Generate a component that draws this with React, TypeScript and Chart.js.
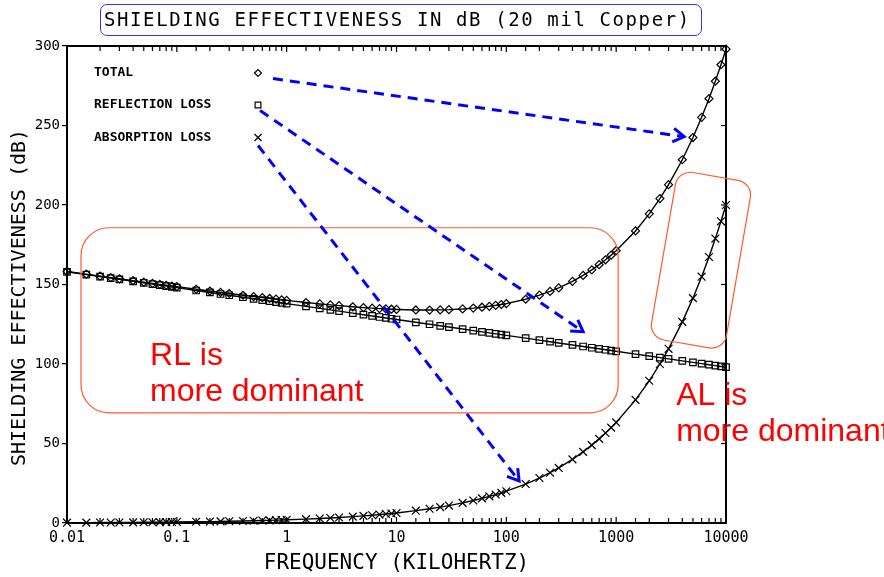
import React, { useEffect, useRef } from 'react';
import { Chart, registerables } from 'chart.js';
import { drawPoint } from 'chart.js/helpers';

Chart.register(...registerables);

// ---------------- data ----------------
const frequencyKHz = [
  0.01, 0.015, 0.02, 0.025, 0.03, 0.04, 0.05, 0.06, 0.07, 0.08, 0.09,
  0.1, 0.15, 0.2, 0.25, 0.3, 0.4, 0.5, 0.6, 0.7, 0.8, 0.9,
  1, 1.5, 2, 2.5, 3, 4, 5, 6, 7, 8, 9,
  10, 15, 20, 25, 30, 40, 50, 60, 70, 80, 90,
  100, 150, 200, 250, 300, 400, 500, 600, 700, 800, 900,
  1000, 1500, 2000, 2500, 3000, 4000, 5000, 6000, 7000, 8000, 9000,
  10000,
];

const totalDb = [
  158.2, 156.48, 155.27, 154.34, 153.58, 152.38, 151.46, 150.71, 150.08, 149.54, 149.06,
  148.63, 147.01, 145.88, 145.02, 144.33, 143.24, 142.42, 141.77, 141.22, 140.76, 140.36,
  140, 138.69, 137.82, 137.18, 136.69, 135.98, 135.48, 135.12, 134.84, 134.63, 134.46,
  134.32, 133.99, 133.93, 134.02, 134.18, 134.63, 135.15, 135.71, 136.28, 136.86, 137.43,
  138, 140.73, 143.27, 145.64, 147.87, 151.98, 155.73, 159.21, 162.47, 165.54, 168.46,
  171.25, 183.7, 194.43, 204.02, 212.77, 228.47, 242.43, 255.14, 266.88, 277.86, 288.2,
  298,
];

const reflectionDb = [
  158, 156.24, 154.99, 154.02, 153.23, 151.98, 151.01, 150.22, 149.55, 148.97, 148.46,
  148, 146.24, 144.99, 144.02, 143.23, 141.98, 141.01, 140.22, 139.55, 138.97, 138.46,
  138, 136.24, 134.99, 134.02, 133.23, 131.98, 131.01, 130.22, 129.55, 128.97, 128.46,
  128, 126.24, 124.99, 124.02, 123.23, 121.98, 121.01, 120.22, 119.55, 118.97, 118.46,
  118, 116.24, 114.99, 114.02, 113.23, 111.98, 111.01, 110.22, 109.55, 108.97, 108.46,
  108, 106.24, 104.99, 104.02, 103.23, 101.98, 101.01, 100.22, 99.55, 98.97, 98.46,
  98,
];

const absorptionDb = [
  0.2, 0.24, 0.28, 0.32, 0.35, 0.4, 0.45, 0.49, 0.53, 0.57, 0.6,
  0.63, 0.77, 0.89, 1.0, 1.1, 1.26, 1.41, 1.55, 1.67, 1.79, 1.9,
  2, 2.45, 2.83, 3.16, 3.46, 4, 4.47, 4.9, 5.29, 5.66, 6,
  6.32, 7.75, 8.94, 10, 10.95, 12.65, 14.14, 15.49, 16.73, 17.89, 18.97,
  20, 24.49, 28.28, 31.62, 34.64, 40, 44.72, 48.99, 52.92, 56.57, 60,
  63.25, 77.46, 89.44, 100, 109.54, 126.49, 141.42, 154.92, 167.33, 178.89, 189.74,
  200,
];

const seriesNames = ['TOTAL', 'REFLECTION LOSS', 'ABSORPTION LOSS'];
const xTickLabels = ['0.01', '0.1', '1', '10', '100', '1000', '10000'];
const yTickStep = 50;
const titleText = 'SHIELDING EFFECTIVENESS IN dB (20 mil Copper)';
const xAxisTitle = 'FREQUENCY (KILOHERTZ)';
const yAxisTitle = 'SHIELDING EFFECTIVENESS (dB)';

// annotations, in data coordinates [kHz, dB]
const arrowFrom = [[0.751, 279.5], [0.573, 259.4], [0.549, 237.4]];
const arrowTo = [[4160, 243.0], [500, 120.3], [130.8, 26.4]];
const rlBoxCorners = [[0.01341, 185.7], [1043, 69.3]];
const alBoxCenter = [5915, 165.3];
const noteLines = [['RL is', 'more dominant'], ['AL is', 'more dominant']];
const noteAnchors = [[0.057, 99.5], [3518, 74.3]];

// ---------------- styles ----------------
const MONO = '"DejaVu Sans Mono", "Liberation Mono", monospace';
const BLUE = '#0000ff';
const ORANGE = '#ff5a36';
const RED = '#ff0000';
const pointStyles = ['rectRot', 'rect', 'crossRot'];
const pointRadii = [4, 4.6, 5.5];

const isDecade = (v: number) => {
  const e = Math.log10(v);
  return Math.abs(e - Math.round(e)) < 1e-6;
};

const framePlugin = {
  id: 'frameTicks',
  afterDatasetsDraw(chart: any) {
    const { ctx, chartArea, scales } = chart;
    const { left, right, top, bottom } = chartArea;
    const xs = scales.x;
    const ys = scales.y;
    ctx.save();
    ctx.strokeStyle = '#000';
    ctx.lineWidth = 2;
    ctx.beginPath();
    ctx.moveTo(left - 1, top);
    ctx.lineTo(right, top);
    ctx.lineTo(right, bottom + 1);
    ctx.stroke();
    ctx.lineWidth = 1.2;
    xs.ticks.forEach((t: any) => {
      const px = xs.getPixelForValue(t.value);
      const len = isDecade(t.value) ? 6 : 5;
      ctx.beginPath();
      ctx.moveTo(px, bottom);
      ctx.lineTo(px, bottom - len);
      ctx.moveTo(px, top);
      ctx.lineTo(px, top + len);
      ctx.stroke();
    });
    ys.ticks.forEach((t: any) => {
      const py = ys.getPixelForValue(t.value);
      ctx.beginPath();
      ctx.moveTo(right, py);
      ctx.lineTo(right - 5, py);
      ctx.stroke();
    });
    ctx.restore();
  },
};

const legendPlugin = {
  id: 'plotLegend',
  afterDraw(chart: any) {
    const { ctx, chartArea } = chart;
    const rows = [27, 59, 91.5];
    ctx.save();
    // y axis title (drawn here so it can sit slightly below the axis centre, as in the original)
    ctx.save();
    ctx.translate(20, (chartArea.top + chartArea.bottom) / 2 + 13);
    ctx.rotate(-Math.PI / 2);
    ctx.font = `20px ${MONO}`;
    ctx.fillStyle = '#000';
    ctx.textAlign = 'center';
    ctx.textBaseline = 'middle';
    ctx.fillText(yAxisTitle, 0, 0);
    ctx.restore();

    ctx.font = `bold 13px ${MONO}`;
    ctx.textBaseline = 'middle';
    ctx.textAlign = 'left';
    seriesNames.forEach((name, i) => {
      const y = chartArea.top + rows[i];
      ctx.fillStyle = '#000';
      ctx.fillText(name, chartArea.left + 27, y);
      ctx.strokeStyle = '#000';
      ctx.fillStyle = 'rgba(0,0,0,0)';
      ctx.lineWidth = 1.2;
      drawPoint(ctx, { pointStyle: pointStyles[i], radius: pointRadii[i] - 0.5, borderWidth: 1.2, rotation: 0 } as any, chartArea.left + 191, y);
    });
    ctx.restore();
  },
};

const drawArrow = (ctx: CanvasRenderingContext2D, x1: number, y1: number, x2: number, y2: number) => {
  ctx.setLineDash([10, 7]);
  ctx.beginPath();
  ctx.moveTo(x1, y1);
  ctx.lineTo(x2, y2);
  ctx.stroke();
  ctx.setLineDash([]);
  const a = Math.atan2(y2 - y1, x2 - x1);
  const L = 13;
  const spread = 0.55;
  ctx.beginPath();
  ctx.moveTo(x2 - L * Math.cos(a - spread), y2 - L * Math.sin(a - spread));
  ctx.lineTo(x2, y2);
  ctx.lineTo(x2 - L * Math.cos(a + spread), y2 - L * Math.sin(a + spread));
  ctx.stroke();
};

const notesPlugin = {
  id: 'notes',
  afterDraw(chart: any) {
    const { ctx, scales } = chart;
    const px = (v: number) => scales.x.getPixelForValue(v);
    const py = (v: number) => scales.y.getPixelForValue(v);
    ctx.save();
    // orange boxes
    ctx.strokeStyle = ORANGE;
    ctx.lineWidth = 1.2;
    const bx1 = px(rlBoxCorners[0][0]);
    const by1 = py(rlBoxCorners[0][1]);
    const bx2 = px(rlBoxCorners[1][0]);
    const by2 = py(rlBoxCorners[1][1]);
    ctx.beginPath();
    ctx.roundRect(bx1, by1, bx2 - bx1, by2 - by1, 28);
    ctx.stroke();
    ctx.save();
    ctx.translate(px(alBoxCenter[0]), py(alBoxCenter[1]));
    ctx.rotate((9.8 * Math.PI) / 180);
    ctx.beginPath();
    ctx.roundRect(-38, -85, 76, 170, 15);
    ctx.stroke();
    ctx.restore();
    // arrows
    ctx.strokeStyle = BLUE;
    ctx.lineWidth = 3;
    ctx.lineCap = 'butt';
    ctx.lineJoin = 'miter';
    arrowFrom.forEach((f, i) => {
      const t = arrowTo[i];
      drawArrow(ctx, px(f[0]), py(f[1]), px(t[0]), py(t[1]));
    });
    // notes
    ctx.fillStyle = RED;
    ctx.font = '32px "Liberation Sans", Arial, sans-serif';
    ctx.textBaseline = 'alphabetic';
    ctx.textAlign = 'left';
    noteLines.forEach((lines, i) => {
      const x = px(noteAnchors[i][0]);
      const y = py(noteAnchors[i][1]);
      lines.forEach((ln, j) => ctx.fillText(ln, x, y + j * 36.5));
    });
    ctx.restore();
  },
};

export default function App() {
  const canvasRef = useRef<HTMLCanvasElement | null>(null);

  useEffect(() => {
    if (!canvasRef.current) return;
    const series = [totalDb, reflectionDb, absorptionDb];
    const chart = new Chart(canvasRef.current, {
      type: 'line',
      data: {
        datasets: series.map((vals, i) => ({
          label: seriesNames[i],
          data: frequencyKHz.map((f, k) => ({ x: f, y: vals[k] })),
          borderColor: '#000',
          borderWidth: 1.4,
          pointStyle: pointStyles[i] as any,
          pointRadius: pointRadii[i],
          pointBorderColor: '#000',
          pointBackgroundColor: 'rgba(0,0,0,0)',
          pointBorderWidth: 1.2,
          fill: false,
          tension: 0,
          clip: false as any,
        })),
      },
      options: {
        responsive: false,
        animation: false,
        events: [],
        layout: { padding: { left: 0, right: 158, top: 46, bottom: 0 } },
        plugins: {
          legend: { display: false },
          tooltip: { enabled: false },
          title: { display: false },
        },
        scales: {
          x: {
            type: 'logarithmic',
            min: 0.01,
            max: 10000,
            afterFit: (s: any) => { s.height = 54; },
            grid: { display: true, drawOnChartArea: false, drawTicks: false },
            border: { display: true, color: '#000', width: 2 },
            ticks: {
              autoSkip: false,
              maxRotation: 0,
              padding: 6,
              color: '#000',
              font: { family: MONO, size: 15 },
              callback: (value: any) => {
                const v = Number(value);
                if (!isDecade(v)) return '';
                return xTickLabels[Math.round(Math.log10(v)) + 2];
              },
            },
            title: {
              display: true,
              text: xAxisTitle,
              color: '#000',
              font: { family: MONO, size: 21 },
              padding: { top: 0, bottom: 1 },
            },
          },
          y: {
            type: 'linear',
            min: 0,
            max: 300,
            afterFit: (s: any) => { s.width = 67; },
            grid: { display: true, drawOnChartArea: false, drawTicks: true, tickLength: 5, color: '#000', lineWidth: 1.2 },
            border: { display: true, color: '#000', width: 2 },
            ticks: {
              stepSize: yTickStep,
              padding: 2,
              color: '#000',
              font: { family: MONO, size: 14 },
            },
            title: { display: false, text: yAxisTitle },
          },
        },
      },
      plugins: [framePlugin, legendPlugin, notesPlugin],
    } as any);
    return () => chart.destroy();
  }, []);

  return (
    <div style={{ position: 'absolute', left: 0, top: 0, width: 884, height: 577, background: '#fff', overflow: 'hidden' }}>
      <canvas ref={canvasRef} width={884} height={577} style={{ position: 'absolute', left: 0, top: 0 }} />
      <div
        style={{
          position: 'absolute',
          left: 100,
          top: 4,
          width: 602,
          height: 32,
          boxSizing: 'border-box',
          border: '1.5px solid #3333ff',
          borderRadius: 7,
          fontFamily: MONO,
          fontSize: 19,
          letterSpacing: '1.6px',
          lineHeight: '29px',
          paddingLeft: 3,
          color: '#000',
          whiteSpace: 'nowrap',
        }}
      >
        {titleText}
      </div>
    </div>
  );
}
